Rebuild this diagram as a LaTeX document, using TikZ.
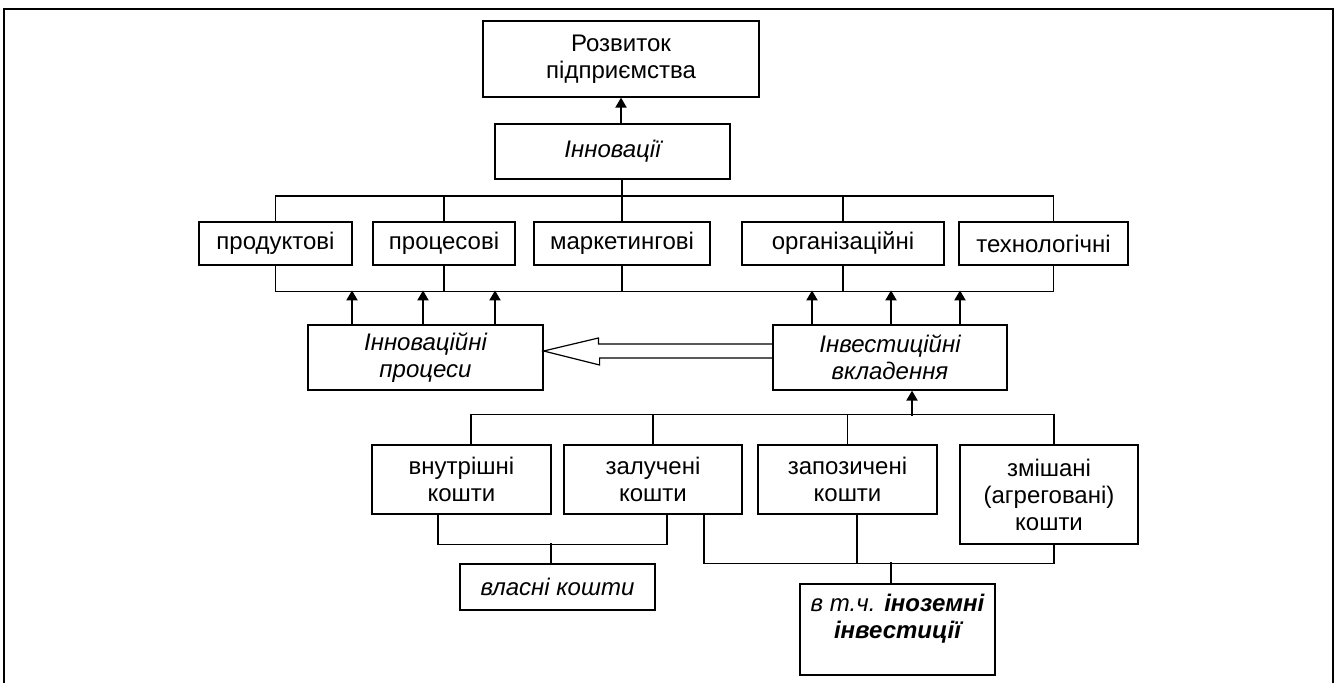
\documentclass[tikz,border=0pt]{standalone}
\usepackage{fontspec}
\setmainfont{Liberation Sans}
\usetikzlibrary{arrows.meta}

\begin{document}
\begin{tikzpicture}[x=0.5pt, y=-0.5pt, font=\fontsize{12}{13.5}\selectfont, block/.style={rectangle, draw, line width=0.6pt, inner sep=0pt, align=center}, catbox/.style={block, minimum height=21.5pt}, fundbox/.style={block, minimum height=34.5pt}, arr/.style={-{Triangle[width=5.5pt,length=5pt]}, line width=1pt}, link/.style={line width=0.6pt}]

  \useasboundingbox (0,0) rectangle (1336,682);
  \draw[line width=1.25pt] (4,720) -- (4,9) -- (1333,9) -- (1333,720);

  \node[block, minimum width=138pt, minimum height=38pt] (dev) at (621,59) {Розвиток\\підприємства};
  \node[block, minimum width=117.5pt, minimum height=27.5pt, below of=dev, node distance=46.25pt, xshift=-4.25pt, font=\fontsize{12}{13.5}\selectfont\itshape] (innov) {Інновації};

  \node[catbox, minimum width=88pt, below of=innov, node distance=46pt, xshift=4.75pt] (mark) {маркетингові};
  \node[catbox, minimum width=71pt, left of=mark, node distance=89pt] (proc) {процесові};
  \node[catbox, minimum width=76.5pt, left of=proc, node distance=84.25pt] (prod) {продуктові};
  \node[catbox, minimum width=101pt, right of=mark, node distance=110.5pt] (org) {організаційні};
  \node[catbox, minimum width=84.5pt, right of=org, node distance=100.25pt] (tech) {технологічні};

  \node[block, minimum width=117.5pt, minimum height=32.5pt, below of=proc, node distance=57pt, xshift=-9.25pt, font=\fontsize{12}{13.5}\selectfont\itshape] (innovp) {Інноваційні\\процеси};
  \node[block, minimum width=117pt, minimum height=32.5pt, right of=innovp, node distance=232.25pt, font=\fontsize{12}{13.5}\selectfont\itshape] (invest) {Інвестиційні\\вкладення};

  \node[fundbox, minimum width=89.5pt, below of=invest, node distance=61pt, xshift=-21.25pt] (borr) {запозичені\\кошти};
  \node[fundbox, minimum width=89pt, left of=borr, node distance=97.25pt] (attr) {залучені\\кошти};
  \node[fundbox, minimum width=89.5pt, left of=attr, node distance=95.75pt] (inner) {внутрішні\\кошти};
  \node[block, minimum width=89pt, minimum height=49.5pt, right of=borr, node distance=100.75pt, yshift=-7.5pt] (mixed) {змішані\\(агреговані)\\кошти};

  \node[block, minimum width=97.5pt, minimum height=23pt, below of=attr, node distance=53.75pt, xshift=-47.75pt, font=\fontsize{12}{13.5}\selectfont\itshape] (own) {власні кошти};
  \node[block, minimum width=97.5pt, minimum height=45.5pt, below of=borr, node distance=75pt, xshift=25pt, font=\fontsize{12}{13.5}\selectfont\itshape] (foreign) {в т.ч. \textbf{іноземні}\\\textbf{інвестиції}\\\mbox{}};

  \draw[arr] (innov.north -| dev.south) -- (dev.south);
  \draw[link] (innov.south -| mark.north) -- (mark.north);
  \draw[link] (prod.north) -- ++(0,12.75pt) -| ([xshift=5pt]tech.north);
  \draw[link] (proc.north) -- ++(0,12.75pt);
  \draw[link] (org.north) -- ++(0,12.75pt);
  \draw[link] (prod.south) -- ++(0,-13pt) -| ([xshift=5pt]tech.south);
  \foreach \n in {proc,mark,org}
    \draw[link] (\n.south) -- ++(0,-13pt);

  \foreach \s in {-36.75pt,-1.25pt,34.75pt}
    \draw[arr] ([xshift=\s]innovp.north) -- ++(0,17pt);
  \foreach \s in {-39pt,0.5pt,35pt}
    \draw[arr] ([xshift=\s]invest.north) -- ++(0,17pt);

  \draw[link] ([yshift=6.75pt]invest.west) -- ++(-87pt,0) -- ++(0,3pt) -- ([yshift=3.25pt]innovp.east) -- ++(28pt,-7pt) -- ++(0,3.5pt) -- ++(87pt,0);

  \draw[arr] ([xshift=11pt,yshift=-12.5pt]invest.south) -- ([xshift=11pt]invest.south);
  \draw[link] ([xshift=4.75pt]inner.north) -- ++(0,15pt) -| ([xshift=2.5pt]mixed.north);
  \draw[link] (attr.north) -- ++(0,15pt);
  \draw[link] (borr.north) -- ++(0,15pt);

  \draw[link] ([xshift=-11.75pt]inner.south) -- ++(0,-15pt) -| ([xshift=7pt]attr.south);
  \draw[link] ([xshift=-3.25pt]own.north) -- ++(0,10pt);
  \draw[link] ([xshift=25.5pt]attr.south) -- ++(0,-24.5pt) -| ([xshift=2.5pt]mixed.south);
  \draw[link] ([xshift=4.75pt]borr.south) -- ++(0,-24.5pt);
  \draw[link] ([xshift=-3.25pt]foreign.north) -- ++(0,10.5pt);
\end{tikzpicture}
\end{document}
